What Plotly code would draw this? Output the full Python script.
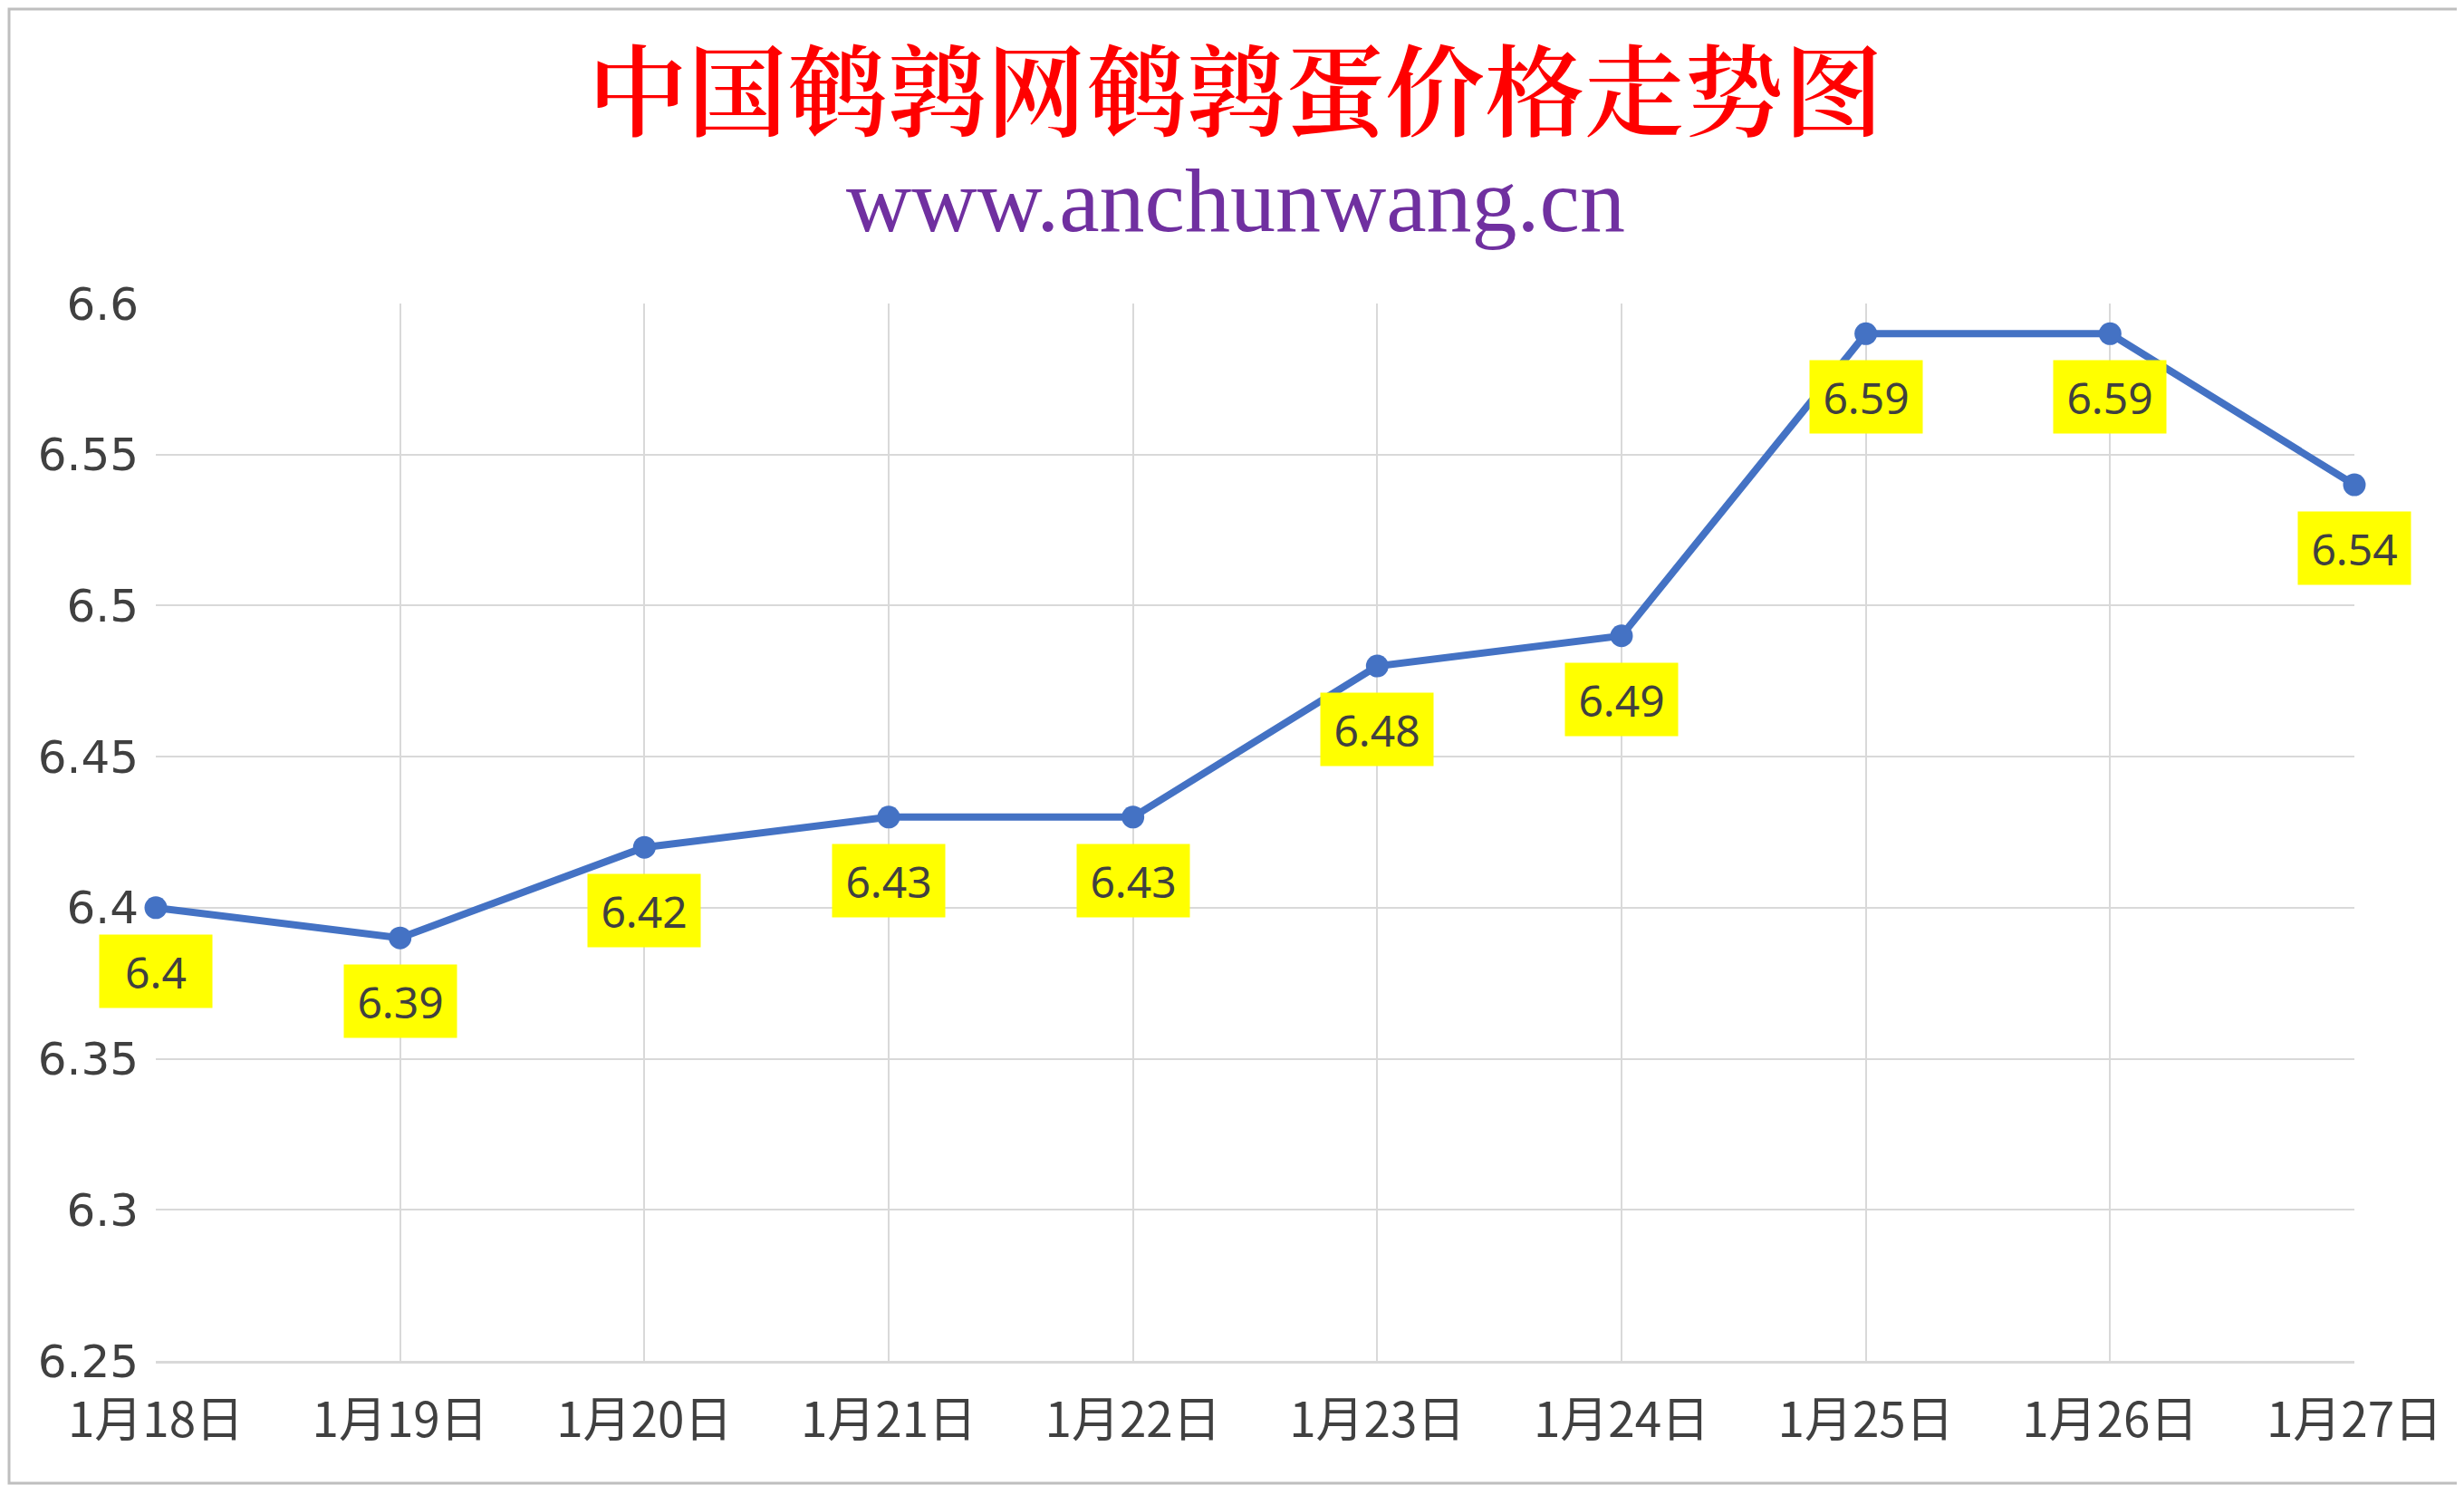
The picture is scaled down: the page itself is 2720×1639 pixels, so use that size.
import plotly.graph_objects as go

dates = ["1月18日", "1月19日", "1月20日", "1月21日", "1月22日",
         "1月23日", "1月24日", "1月25日", "1月26日", "1月27日"]
prices = [6.4, 6.39, 6.42, 6.43, 6.43, 6.48, 6.49, 6.59, 6.59, 6.54]
y_ticks = [6.25, 6.3, 6.35, 6.4, 6.45, 6.5, 6.55, 6.6]

title_text = "中国鹌鹑网鹌鹑蛋价格走势图"
site_text = "www.anchunwang.cn"

# page body has an 8px margin, so the figure is a bit smaller than the window
W, H = 2712, 1631
L, R, T, B = 164, 121, 327, 137
pw, ph = W - L - R, H - T - B

label_font = "Microsoft YaHei, Noto Sans CJK SC, sans-serif"
grey = "#404040"
grid = "#D9D9D9"

fig = go.Figure()
fig.add_trace(go.Scatter(
    x=dates,
    y=prices,
    mode="lines+markers",
    line=dict(color="#4472C4", width=8),
    marker=dict(color="#4472C4", size=25),
    cliponaxis=False,
    hoverinfo="x+y",
))

# yellow data labels under each point
for d, p in zip(dates, prices):
    fig.add_annotation(
        x=d, y=p, text=f"{p:g}", showarrow=False, yshift=-70,
        font=dict(family="Noto Sans, " + label_font, size=48, color=grey),
        bgcolor="#FFFF00", borderpad=9, width=106, height=62,
    )

fig.add_annotation(
    x=(W / 2 - L) / pw, y=(H - B - 86) / ph, xref="paper", yref="paper",
    xanchor="center", yanchor="middle",
    text=title_text, showarrow=False,
    font=dict(family="Noto Serif CJK SC, SimSun, Noto Sans CJK SC, serif",
              size=110, color="#FF0000", weight=600),
)
fig.add_annotation(
    x=(W / 2 - L) / pw, y=(H - B - 214) / ph, xref="paper", yref="paper",
    xanchor="center", yanchor="middle",
    text=site_text, showarrow=False,
    font=dict(family="Liberation Serif, Times New Roman, serif", size=100, color="#7030A0"),
)

# outer chart border
fig.add_shape(
    type="rect", xref="paper", yref="paper",
    x0=(2 - L) / pw, x1=(W - 2 - L) / pw,
    y0=(B - 2) / -ph, y1=(H - B - 2) / ph,
    line=dict(color="#BFBFBF", width=3),
)

fig.update_xaxes(
    type="category", range=[0, len(dates) - 1],
    showgrid=True, gridcolor=grid, gridwidth=2,
    showline=True, linecolor=grid, linewidth=3,
    ticks="", ticklabelstandoff=17,
    tickfont=dict(family=label_font, size=53, color=grey),
    zeroline=False,
)
fig.update_yaxes(
    range=[6.25, 6.6], tickvals=y_ticks, ticktext=[f"{v:g}" for v in y_ticks],
    showgrid=True, gridcolor=grid, gridwidth=2,
    showline=False, ticks="", ticklabelstandoff=18,
    tickfont=dict(family="DejaVu Sans, sans-serif", size=50, color=grey),
    zeroline=False,
)
fig.update_layout(
    width=W, height=H,
    margin=dict(l=L, r=R, t=T, b=B),
    plot_bgcolor="white", paper_bgcolor="white",
    showlegend=False,
)

fig.write_html("out.html")
